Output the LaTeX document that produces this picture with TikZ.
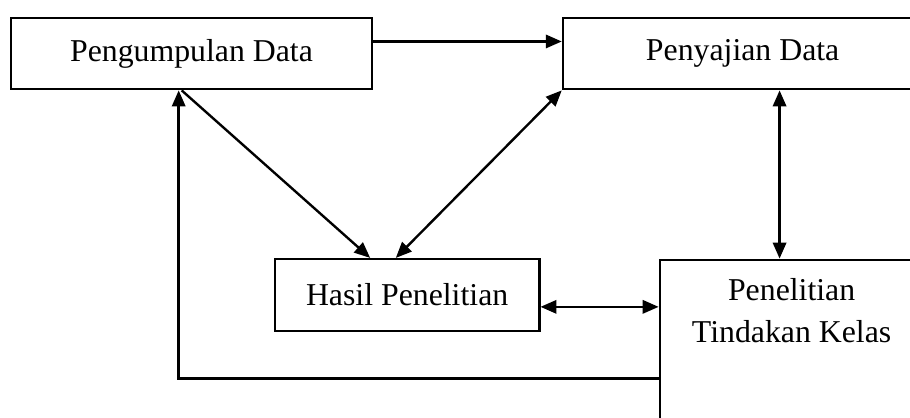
\documentclass[tikz,border=0pt]{standalone}
\usepackage{fontspec}
\setmainfont{Liberation Serif}
\usetikzlibrary{arrows.meta}

\tikzset{
  box/.style={draw, line width=0.8pt, rectangle, inner sep=0pt, align=center},
  arr/.style={line width=0.9pt, -{Triangle[length=6pt,width=5pt]}},
  dbl/.style={line width=0.9pt, {Triangle[length=6pt,width=5pt]}-{Triangle[length=6pt,width=5pt]}}
}

\begin{document}
\begin{tikzpicture}[every node/.style={font=\fontsize{12}{15.8}\selectfont}]
    \clip (0,0) rectangle (12.07,5.54);

    % top row
    \node[box, minimum width=4.79cm, minimum height=0.95cm] (pd) at (2.54,4.83) {Pengumpulan Data};
    \node[box, minimum width=4.77cm, minimum height=0.95cm] (sd) at (9.85,4.83) {Penyajian Data};

    % bottom row
    \node[box, minimum width=3.51cm, minimum height=0.95cm] (hp) at (5.40,1.63) {Hasil Penelitian};
    \node[box, minimum width=3.50cm, minimum height=2.80cm, anchor=north] (ptk) at (10.50,2.11) {};
    \node (ptktext) at (10.50,1.42) [align=center] {Penelitian\\Tindakan Kelas};

    % connectors
    \draw[arr] ([yshift=0.16cm]pd.east) -- ([yshift=0.16cm]sd.west);
    \draw[arr] (ptk.west |- 0,0.52) -| ([xshift=-0.17cm]pd.south);
    \draw[arr] ([xshift=-0.13cm]pd.south) -- ([xshift=-0.49cm]hp.north);
    \draw[dbl] ([xshift=-0.15cm]hp.north) -- (sd.south west);
    \draw[dbl] (sd.south -| 10.34,0) -- (ptk.north -| 10.34,0);
    \draw[dbl] (hp.east |- 0,1.47) -- (ptk.west |- 0,1.47);
\end{tikzpicture}
\end{document}
